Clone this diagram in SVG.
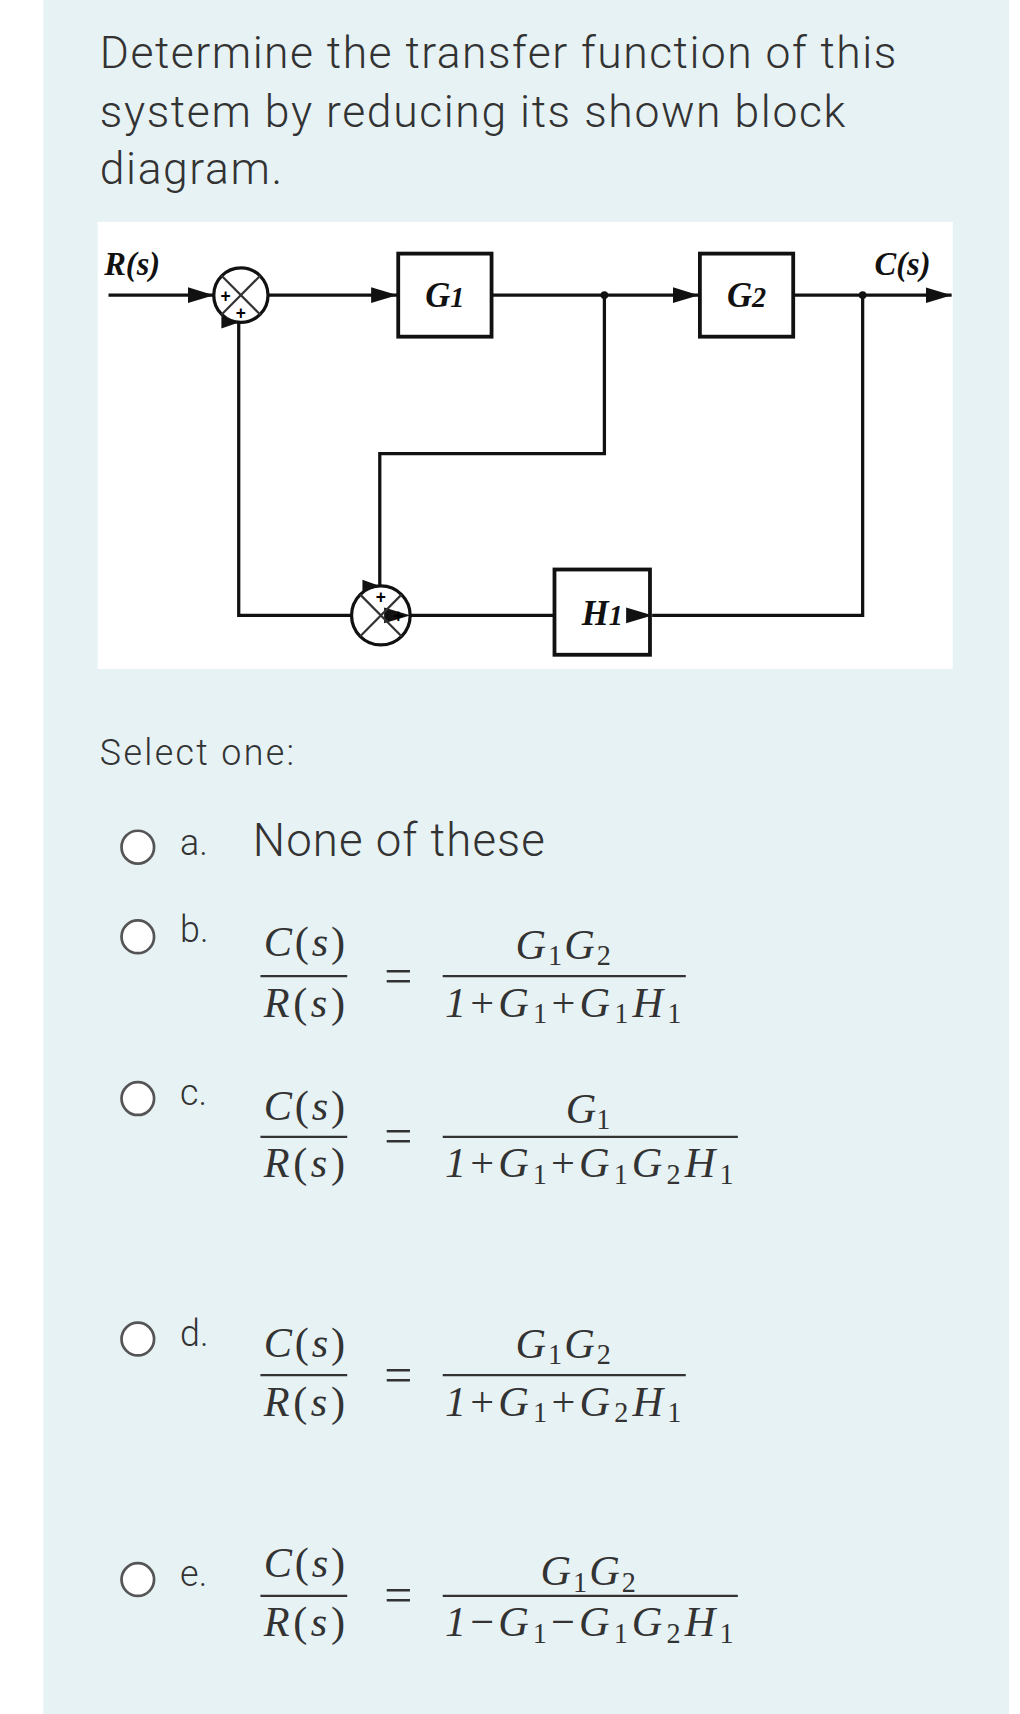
<svg xmlns="http://www.w3.org/2000/svg" width="1020" height="1714" viewBox="0 0 1020 1714">
<defs>
<marker id="ar" viewBox="0 0 10 10" refX="10" refY="5" markerWidth="16" markerHeight="16" markerUnits="userSpaceOnUse"><path d="M0,1.5 L10,5 L0,8.5 z" fill="#111"/></marker>
<marker id="arb" viewBox="0 0 10 10" refX="10" refY="5" markerWidth="24" markerHeight="24" markerUnits="userSpaceOnUse"><path d="M0,2 L10,5 L0,8 z" fill="#111"/></marker>
</defs>
<style>
.t{font-family:Roboto,"Liberation Sans",sans-serif;fill:#333;font-weight:300}
.m{font-family:"Liberation Serif",serif;font-style:italic;fill:#333;font-size:39px}
.r{font-family:"Liberation Serif",serif;font-style:normal;fill:#333}
.bl{font-family:"Liberation Serif",serif;font-style:italic;font-weight:bold;fill:#111}
.w{fill:none;stroke:#111;stroke-width:3}
.bx{fill:#fff;stroke:#111;stroke-width:3.5}
.fl{stroke:#333;stroke-width:2}
.rad{fill:#fff;stroke:#555;stroke-width:2.5}
</style>
<g transform="scale(1.0851,1.0931)">
<rect x="0" y="0" width="940" height="1568" fill="#fff"/>
<rect x="40" y="0" width="890" height="1568" fill="#e7f2f5"/>
<text class="t" font-size="41" x="92" y="62" textLength="734">Determine the transfer function of this</text>
<text class="t" font-size="41" x="92" y="116" textLength="687">system by reducing its shown block</text>
<text class="t" font-size="41" x="92" y="168" textLength="168">diagram.</text>
<rect x="90" y="203" width="788" height="409" fill="#fff"/>
<g id="G1"><rect class="bx" x="367" y="232" width="86" height="76"/><text class="bl" font-size="32" x="410" y="281" text-anchor="middle" font-weight="normal">G<tspan font-size="26">1</tspan></text></g>
<g id="G2"><rect class="bx" x="645" y="232" width="86" height="76"/><text class="bl" font-size="32" x="688" y="281" text-anchor="middle" font-weight="normal">G<tspan font-size="26">2</tspan></text></g>
<g id="H1"><rect class="bx" x="511" y="521" width="88" height="78"/><text class="bl" font-size="32" x="555" y="572" text-anchor="middle" font-weight="normal">H<tspan font-size="26">1</tspan></text></g>
<g id="connectors">
<line class="w" x1="100" y1="270" x2="197" y2="270" marker-end="url(#arb)"/>
<line class="w" x1="247" y1="270" x2="366" y2="270" marker-end="url(#arb)"/>
<line class="w" x1="453" y1="270" x2="644" y2="270" marker-end="url(#arb)"/>
<line class="w" x1="731" y1="270" x2="877" y2="270" marker-end="url(#arb)"/>
<polyline class="w" points="557,270 557,415 350,415 350,536" marker-end="url(#ar)"/>
<polyline class="w" points="795,270 795,563 601,563" marker-end="url(#arb)"/>
<line class="w" x1="511" y1="563" x2="378" y2="563" marker-end="url(#arb)"/>
<polyline class="w" points="324,563 220,563 220,295" marker-end="url(#ar)"/>
<circle cx="557" cy="270" r="3.5" fill="#111"/>
<circle cx="795" cy="270" r="3.5" fill="#111"/>
</g>
<text class="bl" font-size="30" x="96" y="252">R(s)</text>
<text class="bl" font-size="30" x="806" y="252" font-weight="normal">C(s)</text>
<g id="sum1">
<circle cx="222" cy="270" r="25" class="w"/>
<line class="fl" x1="204" y1="252" x2="240" y2="288"/><line class="fl" x1="240" y1="252" x2="204" y2="288"/>
<text x="208" y="276" font-family="Liberation Sans,sans-serif" font-weight="bold" font-size="16" text-anchor="middle">+</text>
<text x="222" y="292" font-family="Liberation Sans,sans-serif" font-weight="bold" font-size="16" text-anchor="middle">+</text>
</g>
<g id="sum2">
<circle cx="351" cy="563" r="27" class="w"/>
<line class="fl" x1="332" y1="544" x2="370" y2="582"/><line class="fl" x1="370" y1="544" x2="332" y2="582"/>
<text x="351" y="552" font-family="Liberation Sans,sans-serif" font-weight="bold" font-size="16" text-anchor="middle">+</text>
<text x="367" y="569" font-family="Liberation Sans,sans-serif" font-weight="bold" font-size="16" text-anchor="middle">+</text>
</g>
<text class="t" font-size="33" x="92" y="700" textLength="179">Select one:</text>
<circle class="rad" cx="127" cy="775" r="15"/>
<circle class="rad" cx="127" cy="857" r="15"/>
<circle class="rad" cx="127" cy="1005" r="15"/>
<circle class="rad" cx="127" cy="1225" r="15"/>
<circle class="rad" cx="127" cy="1445" r="15"/>
<text class="t" font-size="33" x="166" y="782">a.</text>
<text class="t" font-size="42" x="233" y="783" textLength="269">None of these</text>
<text class="t" font-size="33" x="166" y="862">b.</text>
<text class="t" font-size="33" x="166" y="1011">c.</text>
<text class="t" font-size="33" x="166" y="1231">d.</text>
<text class="t" font-size="33" x="166" y="1451">e.</text>
<g id="optb">
<text class="m" x="243" y="875" textLength="75">C<tspan class="r">(</tspan>s<tspan class="r">)</tspan></text>
<line class="fl" x1="240" y1="893" x2="320" y2="893"/>
<text class="m" x="243" y="930" textLength="75">R<tspan class="r">(</tspan>s<tspan class="r">)</tspan></text>
<text class="r" font-size="46" x="367" y="908" text-anchor="middle">=</text>
<text class="m" x="475" y="877" textLength="88">G<tspan class="r" font-size="26" dy="6">1</tspan><tspan dy="-6">G</tspan><tspan class="r" font-size="26" dy="6">2</tspan></text>
<line class="fl" x1="408" y1="893" x2="632" y2="893"/>
<text class="m" x="410" y="930" textLength="218">1<tspan class="r">+</tspan>G<tspan class="r" font-size="26" dy="6">1</tspan><tspan class="r" dy="-6">+</tspan>G<tspan class="r" font-size="26" dy="6">1</tspan><tspan dy="-6">H</tspan><tspan class="r" font-size="26" dy="6">1</tspan></text>
</g>
<g id="optc">
<text class="m" x="243" y="1025" textLength="75">C<tspan class="r">(</tspan>s<tspan class="r">)</tspan></text>
<line class="fl" x1="240" y1="1040" x2="320" y2="1040"/>
<text class="m" x="243" y="1077" textLength="75">R<tspan class="r">(</tspan>s<tspan class="r">)</tspan></text>
<text class="r" font-size="46" x="367" y="1055" text-anchor="middle">=</text>
<text class="m" x="542" y="1027" text-anchor="middle">G<tspan class="r" font-size="26" dy="6">1</tspan></text>
<line class="fl" x1="408" y1="1040" x2="680" y2="1040"/>
<text class="m" x="410" y="1077" textLength="266">1<tspan class="r">+</tspan>G<tspan class="r" font-size="26" dy="6">1</tspan><tspan class="r" dy="-6">+</tspan>G<tspan class="r" font-size="26" dy="6">1</tspan><tspan dy="-6">G</tspan><tspan class="r" font-size="26" dy="6">2</tspan><tspan dy="-6">H</tspan><tspan class="r" font-size="26" dy="6">1</tspan></text>
</g>
<g id="optd">
<text class="m" x="243" y="1241" textLength="75">C<tspan class="r">(</tspan>s<tspan class="r">)</tspan></text>
<line class="fl" x1="240" y1="1258" x2="320" y2="1258"/>
<text class="m" x="243" y="1295" textLength="75">R<tspan class="r">(</tspan>s<tspan class="r">)</tspan></text>
<text class="r" font-size="46" x="367" y="1273" text-anchor="middle">=</text>
<text class="m" x="475" y="1242" textLength="88">G<tspan class="r" font-size="26" dy="6">1</tspan><tspan dy="-6">G</tspan><tspan class="r" font-size="26" dy="6">2</tspan></text>
<line class="fl" x1="408" y1="1258" x2="632" y2="1258"/>
<text class="m" x="410" y="1295" textLength="218">1<tspan class="r">+</tspan>G<tspan class="r" font-size="26" dy="6">1</tspan><tspan class="r" dy="-6">+</tspan>G<tspan class="r" font-size="26" dy="6">2</tspan><tspan dy="-6">H</tspan><tspan class="r" font-size="26" dy="6">1</tspan></text>
</g>
<g id="opte">
<text class="m" x="243" y="1443" textLength="75">C<tspan class="r">(</tspan>s<tspan class="r">)</tspan></text>
<line class="fl" x1="240" y1="1460" x2="320" y2="1460"/>
<text class="m" x="243" y="1497" textLength="75">R<tspan class="r">(</tspan>s<tspan class="r">)</tspan></text>
<text class="r" font-size="46" x="367" y="1475" text-anchor="middle">=</text>
<text class="m" x="498" y="1450" textLength="88">G<tspan class="r" font-size="26" dy="6">1</tspan><tspan dy="-6">G</tspan><tspan class="r" font-size="26" dy="6">2</tspan></text>
<line class="fl" x1="408" y1="1460" x2="680" y2="1460"/>
<text class="m" x="410" y="1497" textLength="266">1<tspan class="r">−</tspan>G<tspan class="r" font-size="26" dy="6">1</tspan><tspan class="r" dy="-6">−</tspan>G<tspan class="r" font-size="26" dy="6">1</tspan><tspan dy="-6">G</tspan><tspan class="r" font-size="26" dy="6">2</tspan><tspan dy="-6">H</tspan><tspan class="r" font-size="26" dy="6">1</tspan></text>
</g>
</g>
</svg>
